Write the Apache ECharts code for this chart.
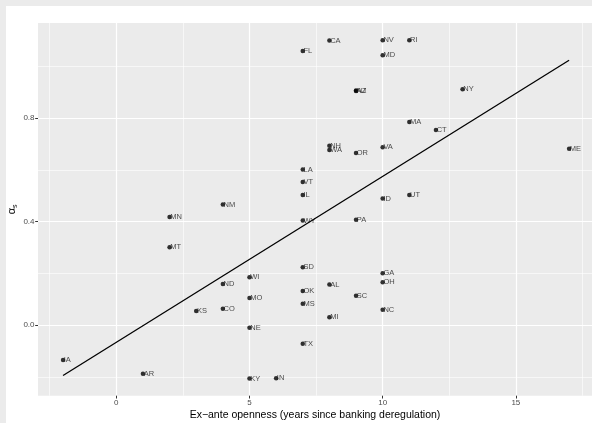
<!DOCTYPE html>
<html>
<head>
<meta charset="utf-8">
<script src="https://cdn.jsdelivr.net/npm/echarts@6/dist/echarts.min.js"></script>
<style>
  html, body { margin: 0; padding: 0; background: #ebebeb; }
  #main { position: absolute; left: 6px; top: 6px; width: 586px; height: 417px; background: #fff; }
</style>
</head>
<body>
<div id="main"></div>
<script>
// state labels, ex-ante openness (years) and alpha_s
const states = ['IA','AR','KY','IN','NE','KS','CO','MO','ND','WI','MN','MT','NM','SD','WY','IL','VT','LA','PA','ID','UT','NH','WA','OR','VA','ME','CT','MA','NY','NJ','AZ','MD','NV','RI','CA','FL','GA','OH','AL','OK','SC','MS','NC','MI','TX'];
const openness = [-2,1,5,6,5,3,4,5,4,5,2,2,4,7,7,7,7,7,9,10,11,8,8,9,10,17,12,11,13,9,9,10,10,11,8,7,10,10,8,7,9,7,10,8,7];
const alpha = [-0.134,-0.187,-0.206,-0.205,-0.010,0.055,0.064,0.105,0.159,0.185,0.418,0.301,0.466,0.224,0.404,0.503,0.553,0.601,0.407,0.489,0.503,0.693,0.677,0.665,0.687,0.681,0.754,0.785,0.911,0.906,0.904,1.042,1.100,1.100,1.099,1.059,0.201,0.166,0.157,0.132,0.114,0.083,0.060,0.031,-0.071];

const xTicks = [0, 5, 10, 15];
const xMinor = [-2.5, 2.5, 7.5, 12.5, 17.5];
const yTicks = [0, 0.4, 0.8];
const yMinor = [-0.2, 0.2, 0.6, 1.0];

// least squares fit, drawn over the observed x range
let n = openness.length, mx = 0, my = 0;
for (let i = 0; i < n; i++) { mx += openness[i]; my += alpha[i]; }
mx /= n; my /= n;
let sxy = 0, sxx = 0;
for (let i = 0; i < n; i++) {
  sxy += (openness[i] - mx) * (alpha[i] - my);
  sxx += (openness[i] - mx) * (openness[i] - mx);
}
const slope = sxy / sxx;
const icpt = my - slope * mx;
const xLo = Math.min(...openness), xHi = Math.max(...openness);
const fitLine = [[xLo, icpt + slope * xLo], [xHi, icpt + slope * xHi]];

const major = { color: '#ffffff', width: 1.2, type: 'solid' };
const minor = { color: '#ffffff', width: 0.6, type: 'solid' };
const gridMarks = []
  .concat(xMinor.map(v => ({ xAxis: v, lineStyle: minor })))
  .concat(yMinor.map(v => ({ yAxis: v, lineStyle: minor })))
  .concat(xTicks.map(v => ({ xAxis: v, lineStyle: major })))
  .concat(yTicks.map(v => ({ yAxis: v, lineStyle: major })));

const font = 'Liberation Sans';
const chart = echarts.init(document.getElementById('main'));
chart.setOption({
  animation: false,
  textStyle: { fontFamily: font },
  grid: {
    left: 32, top: 17, right: 0, bottom: 27.3,
    containLabel: false, outerBoundsMode: 'none',
    show: true, backgroundColor: '#ebebeb', borderWidth: 0
  },
  xAxis: {
    type: 'value', min: -2.94, max: 17.86,
    axisLine: { show: false, onZero: false },
    splitLine: { show: false },
    axisTick: { show: true, length: 2.8, customValues: xTicks, lineStyle: { color: '#333' } },
    axisLabel: { customValues: xTicks, color: '#4d4d4d', fontSize: 8, margin: 3.5 },
    name: 'Ex\u2212ante openness (years since banking deregulation)',
    nameLocation: 'middle', nameGap: 13.5, nameMoveOverlap: false,
    nameTextStyle: { color: '#000', fontSize: 10.5, verticalAlign: 'top' }
  },
  yAxis: {
    type: 'value', min: -0.272, max: 1.167,
    axisLine: { show: false, onZero: false },
    splitLine: { show: false },
    axisTick: { show: true, length: 2.8, customValues: yTicks, lineStyle: { color: '#333' } },
    axisLabel: { customValues: yTicks, color: '#4d4d4d', fontSize: 8, margin: 3.5,
      formatter: v => v.toFixed(1) },
    name: '{a|\u03b1}{s|s}',
    nameLocation: 'middle', nameGap: 19, nameMoveOverlap: false,
    nameTextStyle: {
      rich: {
        a: { fontSize: 11, lineHeight: 14, color: '#000', fontFamily: font },
        s: { fontSize: 7, lineHeight: 14, color: '#000', fontFamily: font, verticalAlign: 'bottom', padding: [3, 0, 0, 0] }
      }
    }
  },
  series: [
    {
      type: 'line', data: [], z: 0, silent: true,
      markLine: { silent: true, z: 0, symbol: 'none', label: { show: false }, data: gridMarks, animation: false }
    },
    {
      type: 'scatter', z: 5,
      symbolSize: 4.5,
      itemStyle: { color: '#000' },
      data: states.map((s, i) => ({ name: s, value: [openness[i], alpha[i]] })),
      label: {
        show: true, position: 'right', distance: -1.5, offset: [0, -2.5],
        formatter: p => p.name, fontSize: 7.5, color: '#1a1a1a', fontFamily: font
      },
      labelLayout: { hideOverlap: false }
    },
    {
      type: 'line', z: 6, data: fitLine, symbol: 'none', silent: true,
      lineStyle: { color: '#000', width: 1.3 }
    }
  ]
});
</script>
</body>
</html>
